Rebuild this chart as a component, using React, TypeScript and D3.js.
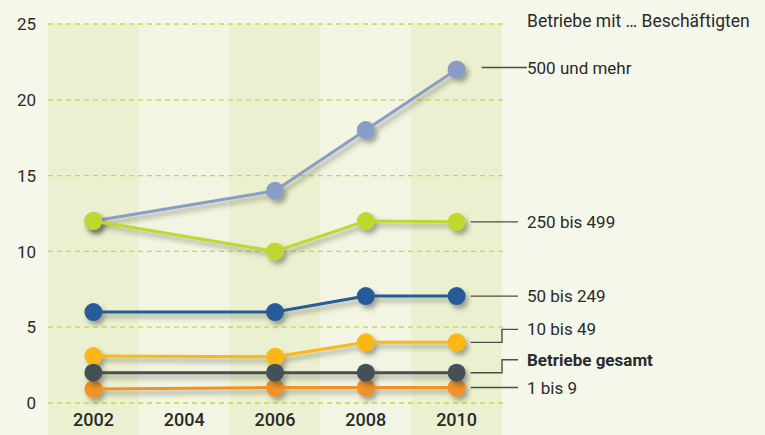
import { useMemo } from "react"
import { line as d3Line, scaleBand, scaleLinear } from "d3"

const bandYears = ["2002", "2004", "2006", "2008", "2010"]
const dataYears = ["2002", "2006", "2008", "2010"]
const yTickValues = [0, 5, 10, 15, 20, 25]
const headerLabel = "Betriebe mit … Beschäftigten"

const seriesBig = [12, 14, 18, 22]
const seriesLarge = [12, 10, 12, 11.95]
const seriesMid = [6, 6, 7.05, 7.05]
const seriesSmall = [3.1, 3.05, 4, 4]
const seriesTotal = [2, 2, 2, 2]
const seriesTiny = [0.92, 1.02, 1.02, 1.02]

interface SeriesDef {
  key: string
  label: string
  values: number[]
  color: string
  bold?: boolean
}

// draw order: later ones sit on top
const seriesDefs: SeriesDef[] = [
  { key: "big", label: "500 und mehr", values: seriesBig, color: "#8a9cc8" },
  { key: "large", label: "250 bis 499", values: seriesLarge, color: "#c1d62f" },
  { key: "mid", label: "50 bis 249", values: seriesMid, color: "#285a98" },
  { key: "tiny", label: "1 bis 9", values: seriesTiny, color: "#f29226" },
  { key: "small", label: "10 bis 49", values: seriesSmall, color: "#fcb719" },
  { key: "total", label: "Betriebe gesamt", values: seriesTotal, color: "#444f56", bold: true },
]

// label layout tweaks (pixels)
const labelShift: Record<string, number> = { small: -13, total: -13 }

const font = "Roboto, 'Noto Sans', sans-serif"

export default function App() {
  const width = 765
  const height = 435
  const plot = { left: 48, right: 502, top: 24, bottom: 403 }

  const bandScale = useMemo(() => scaleBand<string>().domain(bandYears).range([plot.left, plot.right]).padding(0), [])
  const xPos = (year: string) => (bandScale(year) ?? 0) + bandScale.bandwidth() / 2
  const yScale = useMemo(() => scaleLinear().domain([0, 25]).range([plot.bottom, plot.top]), [])

  const lineGen = d3Line<number>()
    .x((_, i) => xPos(dataYears[i]))
    .y((v) => yScale(v))

  const lastX = xPos(dataYears[dataYears.length - 1])
  const calloutStart = lastX + 14
  const elbowX = 502
  const calloutEnd = 518
  const labelX = 527

  return (
    <svg width={width} height={height} style={{ position: "absolute", left: 0, top: 0, display: "block" }} fontFamily={font}>
      <defs>
        <filter id="shadow" x="-30%" y="-30%" width="170%" height="170%">
          <feDropShadow dx="3" dy="4" stdDeviation="2.4" floodColor="#3a3a2a" floodOpacity="0.45" />
        </filter>
      </defs>
      <rect x={0} y={0} width={width} height={height} fill="#f5f7ea" />

      {bandYears.map((year, i) => (
        <rect
          key={year}
          x={bandScale(year)}
          y={plot.top}
          width={bandScale.bandwidth()}
          height={height - plot.top}
          fill={i % 2 === 0 ? "#ebf1d0" : "#f1f5e1"}
        />
      ))}

      {yTickValues.map((tick) => (
        <g key={tick}>
          <line x1={plot.left} x2={plot.right + 3} y1={yScale(tick)} y2={yScale(tick)} stroke="#c6da3c" strokeWidth={1.3} strokeDasharray="5 4" />
          <text x={36} y={yScale(tick)} dy="0.36em" textAnchor="end" fontSize={17} fill="#2a2a2a">{tick}</text>
        </g>
      ))}

      {bandYears.map((year) => (
        <text key={year} x={xPos(year)} y={420} dy="0.36em" textAnchor="middle" fontSize={18} fontWeight={500} fill="#2a2a2a">{year}</text>
      ))}

      {seriesDefs.map((s) => (
        <g key={s.key} filter="url(#shadow)">
          <path d={lineGen(s.values) ?? ""} fill="none" stroke={s.color} strokeWidth={3} />
          {s.values.map((v, i) => (
            <circle key={i} cx={xPos(dataYears[i])} cy={yScale(v)} r={9} fill={s.color} />
          ))}
        </g>
      ))}

      <text x={labelX} y={27} fontSize={17.5} fill="#2a2a2a">{headerLabel}</text>

      {seriesDefs.map((s) => {
        const py = yScale(s.values[s.values.length - 1])
        const shift = labelShift[s.key] ?? 0
        const ly = py + shift
        const isTop = s.key === "big"
        const x0 = isTop ? calloutStart + 11 : calloutStart
        const x1 = isTop ? labelX : calloutEnd
        const d = shift
          ? `M${x0},${py}H${elbowX}V${ly}H${x1}`
          : `M${x0},${isTop ? py - 2 : py}H${x1}`
        return (
          <g key={`lbl-${s.key}`}>
            <path d={d} fill="none" stroke="#4a4f4a" strokeWidth={1.4} />
            <text x={labelX} y={isTop ? py - 2 : ly} dy="0.36em" fontSize={17} fontWeight={s.bold ? 700 : 400} fill="#2a2a2a">{s.label}</text>
          </g>
        )
      })}
    </svg>
  )
}
